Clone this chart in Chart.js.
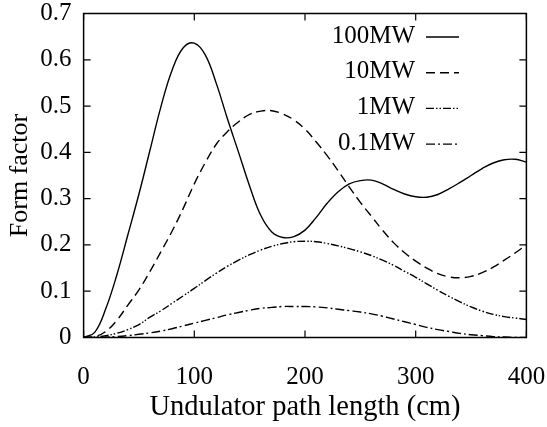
<!DOCTYPE html>
<html>
<head>
<meta charset="utf-8">
<script src="https://cdn.jsdelivr.net/npm/chart.js@4"></script>
<style>
  body { margin: 0; background: #fff; }
  canvas { display: block; }
</style>
</head>
<body>
<canvas id="chart" width="547" height="427"></canvas>
<script>
const xValues = [0, 10, 20, 30, 40, 50, 60, 70, 80, 90, 100, 110, 120, 130, 140, 150, 160, 170, 180, 190, 200,
  210, 220, 230, 240, 250, 260, 270, 280, 290, 300, 310, 320, 330, 340, 350, 360, 370, 380, 390, 400];

const seriesNames = ['100MW', '10MW', '1MW', '0.1MW'];

const mw100 = [0, 0.011, 0.062, 0.135, 0.222, 0.31, 0.405, 0.5, 0.578, 0.626, 0.636, 0.61, 0.548, 0.472, 0.4,
  0.327, 0.264, 0.228, 0.216, 0.218, 0.232, 0.259, 0.29, 0.315, 0.332, 0.339, 0.34, 0.332, 0.32, 0.31, 0.304,
  0.303, 0.309, 0.321, 0.335, 0.35, 0.365, 0.377, 0.384, 0.385, 0.379];
const mw10 = [0, 0.002, 0.013, 0.037, 0.07, 0.103, 0.143, 0.186, 0.23, 0.279, 0.332, 0.378, 0.418, 0.445, 0.466,
  0.482, 0.489, 0.49, 0.483, 0.47, 0.45, 0.423, 0.393, 0.36, 0.325, 0.292, 0.262, 0.232, 0.205, 0.183, 0.165,
  0.15, 0.138, 0.131, 0.129, 0.132, 0.14, 0.152, 0.167, 0.183, 0.2];
const mw1 = [0, 0.001, 0.004, 0.009, 0.017, 0.028, 0.044, 0.058, 0.074, 0.09, 0.106, 0.123, 0.139, 0.154, 0.167,
  0.179, 0.189, 0.197, 0.203, 0.207, 0.208, 0.207, 0.203, 0.198, 0.192, 0.185, 0.177, 0.167, 0.156, 0.143, 0.13,
  0.116, 0.102, 0.089, 0.077, 0.066, 0.057, 0.05, 0.045, 0.042, 0.039];
const mw01 = [0, 0, 0.001, 0.002, 0.004, 0.007, 0.01, 0.014, 0.019, 0.025, 0.031, 0.037, 0.043, 0.049, 0.054,
  0.059, 0.063, 0.065, 0.067, 0.067, 0.067, 0.066, 0.064, 0.061, 0.058, 0.055, 0.051, 0.046, 0.04, 0.034, 0.028,
  0.022, 0.017, 0.013, 0.009, 0.006, 0.004, 0.002, 0.001, 0, 0];

const xTicks = [0, 100, 200, 300, 400];
const yTicks = [0, 0.1, 0.2, 0.3, 0.4, 0.5, 0.6, 0.7];
const yTickLabels = ['0', '0.1', '0.2', '0.3', '0.4', '0.5', '0.6', '0.7'];

const allSeries = [mw100, mw10, mw1, mw01];
const dashes = [[], [9, 5], [8, 2, 1.5, 2, 1.5, 2], [9, 3, 2, 3]];
const family = "'Liberation Serif', 'DejaVu Serif', serif";
const tickFont = { family, size: 25 };

// frame + inward ticks on all four sides
const framePlugin = {
  id: 'frame',
  afterDraw(chart) {
    const { ctx, chartArea: a, scales: { x, y } } = chart;
    ctx.save();
    ctx.strokeStyle = '#000';
    ctx.lineWidth = 1.5;
    ctx.strokeRect(a.left, a.top, a.right - a.left, a.bottom - a.top);
    ctx.lineWidth = 1.2;
    ctx.beginPath();
    xTicks.forEach(v => {
      const px = x.getPixelForValue(v);
      ctx.moveTo(px, a.bottom); ctx.lineTo(px, a.bottom - 7);
      ctx.moveTo(px, a.top); ctx.lineTo(px, a.top + 7);
    });
    yTicks.forEach(v => {
      const py = y.getPixelForValue(v);
      ctx.moveTo(a.left, py); ctx.lineTo(a.left + 7, py);
      ctx.moveTo(a.right, py); ctx.lineTo(a.right - 7, py);
    });
    ctx.stroke();
    ctx.restore();
  }
};

// legend: label right aligned, line sample after it
const keyPlugin = {
  id: 'key',
  afterDraw(chart) {
    const { ctx } = chart;
    ctx.save();
    ctx.font = `25px ${family}`;
    ctx.fillStyle = '#000';
    ctx.textAlign = 'right';
    ctx.textBaseline = 'middle';
    chart.data.datasets.forEach((ds, i) => {
      const rowY = 36 + i * 35.7;
      ctx.fillText(ds.label, 415, rowY);
      ctx.beginPath();
      ctx.setLineDash(ds.borderDash);
      ctx.lineWidth = ds.borderWidth;
      ctx.strokeStyle = '#000';
      ctx.moveTo(426, rowY + 1);
      ctx.lineTo(459, rowY + 1);
      ctx.stroke();
    });
    ctx.restore();
  }
};

new Chart(document.getElementById('chart'), {
  type: 'line',
  data: {
    datasets: seriesNames.map((name, i) => ({
      label: name,
      data: xValues.map((xv, j) => ({ x: xv, y: allSeries[i][j] })),
      borderColor: '#000',
      borderWidth: 1.4,
      borderDash: dashes[i],
      pointRadius: 0,
      tension: 0.4,
      fill: false
    }))
  },
  options: {
    responsive: false,
    animation: false,
    layout: { padding: { top: 13.5, right: 20.6, left: 0, bottom: 0 } },
    plugins: { legend: { display: false }, tooltip: { enabled: false } },
    scales: {
      x: {
        type: 'linear', min: 0, max: 400,
        afterBuildTicks: s => { s.ticks = xTicks.map(v => ({ value: v })); },
        afterFit: s => { s.height = 89.5; s.paddingLeft = 0; s.paddingRight = 0; },
        grid: { display: false, drawTicks: false },
        border: { display: false },
        ticks: { font: tickFont, color: '#000', padding: 25, maxRotation: 0 },
        title: { display: true, text: 'Undulator path length (cm)', font: { family, size: 28.5 }, color: '#000', padding: { top: 0, bottom: 2 } }
      },
      y: {
        type: 'linear', min: 0, max: 0.7,
        afterBuildTicks: s => { s.ticks = yTicks.map(v => ({ value: v })); },
        afterFit: s => { s.width = 83.6; s.paddingTop = 0; s.paddingBottom = 0; },
        grid: { display: false, drawTicks: false },
        border: { display: false },
        ticks: { font: tickFont, color: '#000', padding: 12, callback: (v, i) => yTickLabels[i] },
        title: { display: true, text: 'Form factor', font: { family, size: 26 }, color: '#000', padding: { top: 4.4, bottom: 0 } }
      }
    }
  },
  plugins: [framePlugin, keyPlugin]
});
</script>
</body>
</html>
